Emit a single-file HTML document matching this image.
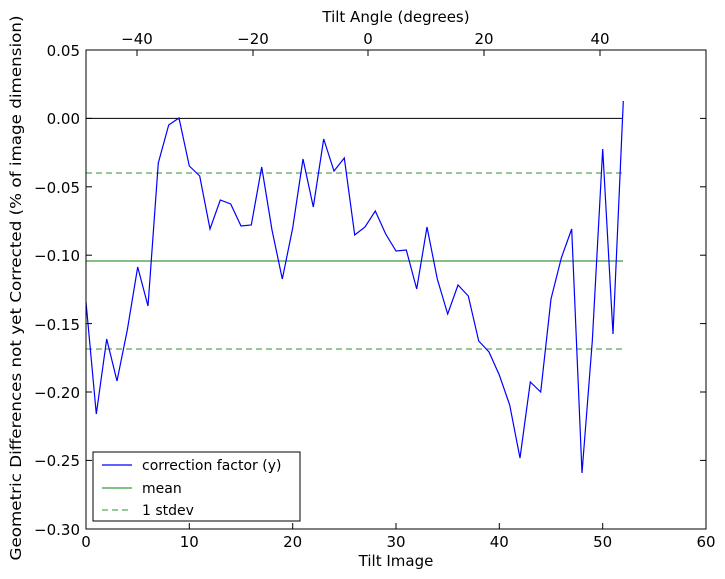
<!DOCTYPE html>
<html><head><style>body{margin:0;background:#fff}svg{display:block}text{font-family:"DejaVu Sans","Liberation Sans",sans-serif;fill:#000}</style></head><body>
<svg width="725" height="579" viewBox="0 0 725 579" xmlns="http://www.w3.org/2000/svg">
<rect width="725" height="579" fill="#fff"/>
<line x1="86" y1="118.4" x2="623" y2="118.4" stroke="#000" stroke-width="1"/>
<line x1="86" y1="261" x2="623" y2="261" stroke="#3a9a3a" stroke-width="1.2"/>
<line x1="86" y1="173" x2="623" y2="173" stroke="#5aa85a" stroke-width="1.2" stroke-dasharray="6,4"/>
<line x1="86" y1="349" x2="623" y2="349" stroke="#5aa85a" stroke-width="1.2" stroke-dasharray="6,4"/>
<polyline fill="none" stroke="#0000ff" stroke-width="1.2" points="86,302 96.3,414 106.7,339 117,381 127.3,330 137.7,267 148,306 158.3,163 168.7,125 179,118 189.3,166 199.7,176 210,229 220.3,200 230.7,204 241,226 251.3,225 261.7,167 272,230 282.3,279 292.7,228 303,159 313.3,207 323.7,139 334,171 344.3,158 354.7,235 365,227 375.3,211 385.7,234 396,251 406.3,250 416.7,289 427,227 437.3,279 447.7,314 458,285 468.3,296 478.7,341 489,352 499.3,375 509.7,405 520,458 530.3,382 540.7,392 551,299 561.3,258 571.7,229 582,473 592.3,341 602.7,149 613,334 623.3,101"/>
<rect x="86" y="50" width="620" height="479" fill="none" stroke="#000" stroke-width="1"/>
<g stroke="#000" stroke-width="1">
<line x1="189.3" y1="529" x2="189.3" y2="523"/><line x1="292.7" y1="529" x2="292.7" y2="523"/><line x1="396" y1="529" x2="396" y2="523"/><line x1="499.3" y1="529" x2="499.3" y2="523"/><line x1="602.7" y1="529" x2="602.7" y2="523"/>
<line x1="86" y1="118.4" x2="92" y2="118.4"/><line x1="86" y1="186.8" x2="92" y2="186.8"/><line x1="86" y1="255.2" x2="92" y2="255.2"/><line x1="86" y1="323.6" x2="92" y2="323.6"/><line x1="86" y1="392" x2="92" y2="392"/><line x1="86" y1="460.4" x2="92" y2="460.4"/>
<line x1="706" y1="118.4" x2="700" y2="118.4"/><line x1="706" y1="186.8" x2="700" y2="186.8"/><line x1="706" y1="255.2" x2="700" y2="255.2"/><line x1="706" y1="323.6" x2="700" y2="323.6"/><line x1="706" y1="392" x2="700" y2="392"/><line x1="706" y1="460.4" x2="700" y2="460.4"/>
<line x1="137" y1="50" x2="137" y2="56"/><line x1="253" y1="50" x2="253" y2="56"/><line x1="368" y1="50" x2="368" y2="56"/><line x1="484" y1="50" x2="484" y2="56"/><line x1="600" y1="50" x2="600" y2="56"/>
</g>
<g font-size="15" text-anchor="middle">
<text x="86" y="547">0</text><text x="189.3" y="547">10</text><text x="292.7" y="547">20</text><text x="396" y="547">30</text><text x="499.3" y="547">40</text><text x="602.7" y="547">50</text><text x="706" y="547">60</text>
<text x="137" y="44">−40</text><text x="253" y="44">−20</text><text x="368" y="44">0</text><text x="484" y="44">20</text><text x="600" y="44">40</text>
<text x="396" y="566">Tilt Image</text>
<text x="396" y="22">Tilt Angle (degrees)</text>
<text transform="translate(21,288) rotate(-90)" textLength="545" lengthAdjust="spacingAndGlyphs">Geometric Differences not yet Corrected (% of image dimension)</text>
</g>
<g font-size="15" text-anchor="end">
<text x="80" y="56">0.05</text><text x="80" y="124">0.00</text><text x="80" y="193">−0.05</text><text x="80" y="261">−0.10</text><text x="80" y="330">−0.15</text><text x="80" y="398">−0.20</text><text x="80" y="466">−0.25</text><text x="80" y="535">−0.30</text>
</g>
<rect x="93" y="452" width="207" height="69" fill="#fff" stroke="#000" stroke-width="1"/>
<line x1="102" y1="465" x2="132" y2="465" stroke="#0000ff" stroke-width="1.2"/>
<line x1="102" y1="488" x2="132" y2="488" stroke="#3a9a3a" stroke-width="1.2"/>
<line x1="102" y1="510" x2="132" y2="510" stroke="#5aa85a" stroke-width="1.2" stroke-dasharray="6,4"/>
<g font-size="14"><text x="142" y="470">correction factor (y)</text><text x="142" y="493">mean</text><text x="142" y="515">1 stdev</text></g>
</svg>
</body></html>
